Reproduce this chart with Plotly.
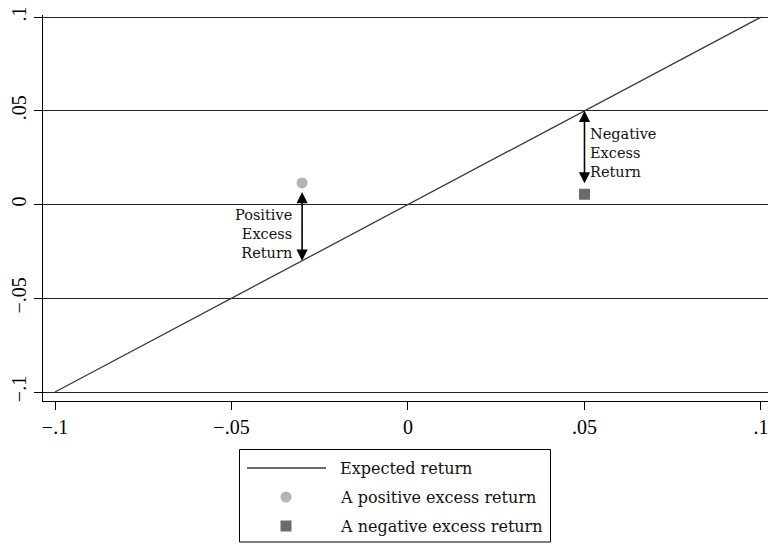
import plotly.graph_objects as go

# ---------------- data ----------------
line_x = [-0.1, 0.1]
line_y = [-0.1, 0.1]
pos_x = [-0.03]
pos_y = [0.0115]
neg_x = [0.05]
neg_y = [0.0055]
series_names = ["Expected return", "A positive excess return", "A negative excess return"]
tick_vals = [-0.1, -0.05, 0, 0.05, 0.1]
tick_text = ["\u2212.1", "\u2212.05", "0", ".05", ".1"]
pos_label = "Positive<br>Excess<br>Return"
neg_label = "Negative<br>Excess<br>Return"

# ---------------- style ----------------
W, H = 770, 544
LINE_COLOR = "#3a3a3a"
POS_COLOR = "#b4b4b4"
NEG_COLOR = "#6b6b6b"
TICK_FONT = dict(family="Liberation Serif", size=20, color="black")
TXT_FONT = dict(family="DejaVu Serif", size=14.5, color="#111")
LEG_FONT = dict(family="DejaVu Serif", size=16, color="#111")

def px(x):
    return x / W

def py(y):
    return 1 - y / H

fig = go.Figure()
fig.add_trace(go.Scatter(x=line_x, y=line_y, mode="lines", name=series_names[0],
                         line=dict(color=LINE_COLOR, width=1.3), showlegend=False))
fig.add_trace(go.Scatter(x=pos_x, y=pos_y, mode="markers", name=series_names[1],
                         marker=dict(symbol="circle", size=11, color=POS_COLOR), showlegend=False))
fig.add_trace(go.Scatter(x=neg_x, y=neg_y, mode="markers", name=series_names[2],
                         marker=dict(symbol="square", size=11, color=NEG_COLOR), showlegend=False))

# arrows (double headed) between the points and the expected-return line
gap = 0.004
arrows = [
    (pos_x[0], pos_y[0] - gap),
    (neg_x[0], neg_y[0] + gap + 0.001),
]
for x, y_tail in arrows:
    y_line = x  # expected return line: y = x
    fig.add_annotation(x=x, y=y_line, ax=x, ay=y_tail, xref="x", yref="y", axref="x", ayref="y",
                       text="", showarrow=True, arrowhead=2, arrowside="end+start",
                       arrowsize=1.4, arrowwidth=1.6, arrowcolor="black", standoff=0, startstandoff=0)

fig.add_annotation(x=pos_x[0], y=(pos_y[0] + pos_x[0]) / 2 - 0.0065, xref="x", yref="y",
                   text=pos_label, showarrow=False, xanchor="right", align="right",
                   xshift=-8, font=TXT_FONT)
fig.add_annotation(x=neg_x[0], y=(neg_y[0] + neg_x[0]) / 2, xref="x", yref="y",
                   text=neg_label, showarrow=False, xanchor="left", align="left",
                   xshift=4, font=TXT_FONT)

# ---------------- manual legend ----------------
shapes = [
    dict(type="rect", xref="paper", yref="paper", x0=px(239.5), x1=px(550.5), y0=py(542), y1=py(449.5),
         line=dict(color="black", width=1), fillcolor="white"),
    dict(type="line", xref="paper", yref="paper", x0=px(247), x1=px(326), y0=py(468), y1=py(468),
         line=dict(color=LINE_COLOR, width=1.3)),
    dict(type="circle", xref="paper", yref="paper", x0=px(280.5), x1=px(291.5), y0=py(502.5), y1=py(491.5),
         line=dict(width=0), fillcolor=POS_COLOR),
    dict(type="rect", xref="paper", yref="paper", x0=px(280.5), x1=px(291.5), y0=py(531.5), y1=py(520.5),
         line=dict(width=0), fillcolor=NEG_COLOR),
]
for name, yy in zip(series_names, [468, 497, 526]):
    fig.add_annotation(x=px(338), y=py(yy), xref="paper", yref="paper", text=name, showarrow=False,
                       xanchor="left", yanchor="middle", font=LEG_FONT)

fig.update_layout(
    width=W, height=H,
    margin=dict(l=0, r=0, t=0, b=0, autoexpand=False),
    paper_bgcolor="white", plot_bgcolor="white",
    shapes=shapes,
    showlegend=False,
    xaxis=dict(domain=[43 / W, 0.997], range=[-0.1034, 0.1019], tickvals=tick_vals, ticktext=tick_text,
               automargin=False,
               showgrid=False, zeroline=False, showline=True, linecolor="black", linewidth=1.2,
               ticks="outside", ticklen=8, tickwidth=1.2, tickcolor="black", tickfont=TICK_FONT),
    yaxis=dict(domain=[(H - 401) / H, (H - 15) / H], range=[-0.1048, 0.1011], tickvals=tick_vals,
               ticktext=tick_text, tickangle=-90, automargin=False,
               showgrid=True, gridcolor="#222", gridwidth=1.3, zeroline=False,
               showline=True, linecolor="black", linewidth=1.2,
               ticks="outside", ticklen=8, tickwidth=1.2, tickcolor="black", tickfont=TICK_FONT),
)

fig.write_html("out.html", config={"displayModeBar": False, "responsive": False},
               post_script="document.body.style.margin='0';document.body.style.overflow='hidden';"
                           "document.documentElement.style.overflow='hidden';")
